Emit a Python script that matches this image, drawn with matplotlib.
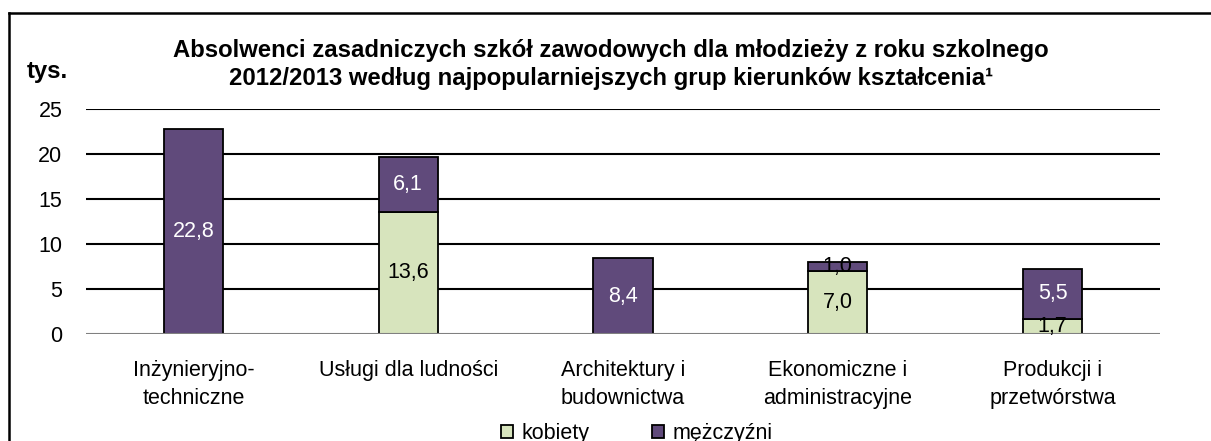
import matplotlib
matplotlib.use("Agg")
import matplotlib.pyplot as plt
from matplotlib.lines import Line2D
from matplotlib.patches import Patch
import numpy as np

categories = ["Inżynieryjno-\ntechniczne", "Usługi dla ludności", "Architektury i\nbudownictwa",
              "Ekonomiczne i\nadministracyjne", "Produkcji i\nprzetwórstwa"]
kobiety = [0.0, 13.6, 0.0, 7.0, 1.7]
mezczyzni = [22.8, 6.1, 8.4, 1.0, 5.5]
series_names = ["kobiety", "mężczyźni"]
yticks = [0, 5, 10, 15, 20, 25]
title = "Absolwenci zasadniczych szkół zawodowych dla młodzieży z roku szkolnego\n2012/2013 według najpopularniejszych grup kierunków kształcenia¹"
unit = "tys."

FONT = ["Liberation Sans", "DejaVu Sans"]
plt.rcParams["font.family"] = FONT

W, H = 1211, 441
fig = plt.figure(figsize=(W / 100, H / 100), dpi=100)
ax = fig.add_axes([86 / W, (H - 334) / H, (1160 - 86) / W, (334 - 109) / H])

GREEN = "#D7E4BD"
PURPLE = "#604A7B"
x = np.arange(len(categories))
bw = 0.275
FS = 15.5
TFS = 17.2

for yv in yticks[1:]:
    ax.axhline(yv, color="black", lw=1.5, zorder=0)
ax.axhline(0, color="#808080", lw=1.5, zorder=3)

k_idx = [i for i, v in enumerate(kobiety) if v > 0]
ax.bar(x[k_idx], [kobiety[i] for i in k_idx], bw, color=GREEN, edgecolor="black", lw=1.3, zorder=2)
ax.bar(x, mezczyzni, bw, bottom=kobiety, color=PURPLE, edgecolor="black", lw=1.3, zorder=2)

def fmt(v):
    return f"{v:.1f}".replace(".", ",")

for i, v in enumerate(kobiety):
    if v > 0:
        ax.text(x[i], v / 2, fmt(v), ha="center", va="center", fontsize=FS, color="black", zorder=4)
for i, v in enumerate(mezczyzni):
    col = "black" if v < 2 else "white"
    ax.text(x[i], kobiety[i] + v / 2, fmt(v), ha="center", va="center", fontsize=FS, color=col, zorder=4)

ax.set_xlim(-0.5, len(categories) - 0.5)
ax.set_ylim(0, 25)
ax.set_yticks(yticks)
ax.set_yticklabels([str(t) for t in yticks], fontsize=FS)
ax.set_xticks(x)
ax.set_xticklabels(categories, fontsize=FS, linespacing=1.42)
ax.tick_params(axis="y", length=0, pad=17)
ax.tick_params(axis="x", length=0, pad=19)
for s in ax.spines.values():
    s.set_visible(False)

fig.text(611 / W, 1 - 85 / H, title, ha="center", va="baseline", fontsize=TFS, fontweight="bold",
         linespacing=1.25, multialignment="center")
fig.text(47 / W, 1 - 78 / H, unit, ha="center", va="baseline", fontsize=TFS, fontweight="bold")

handles = [Patch(facecolor=GREEN, edgecolor="black", lw=1.3), Patch(facecolor=PURPLE, edgecolor="black", lw=1.3)]
fig.legend(handles, series_names, loc="center", bbox_to_anchor=(637 / W, 1 - 434 / H), ncol=2,
           frameon=False, fontsize=FS, handlelength=0.56, handleheight=0.56, handletextpad=0.4,
           columnspacing=2.9, borderpad=0)

fig.add_artist(Line2D([9 / W, 9 / W], [0, 1 - 13 / H], transform=fig.transFigure, color="black", lw=1.8))
fig.add_artist(Line2D([9 / W, 1], [1 - 13 / H, 1 - 13 / H], transform=fig.transFigure, color="black", lw=1.8))

fig.savefig("out.png", dpi=100)
